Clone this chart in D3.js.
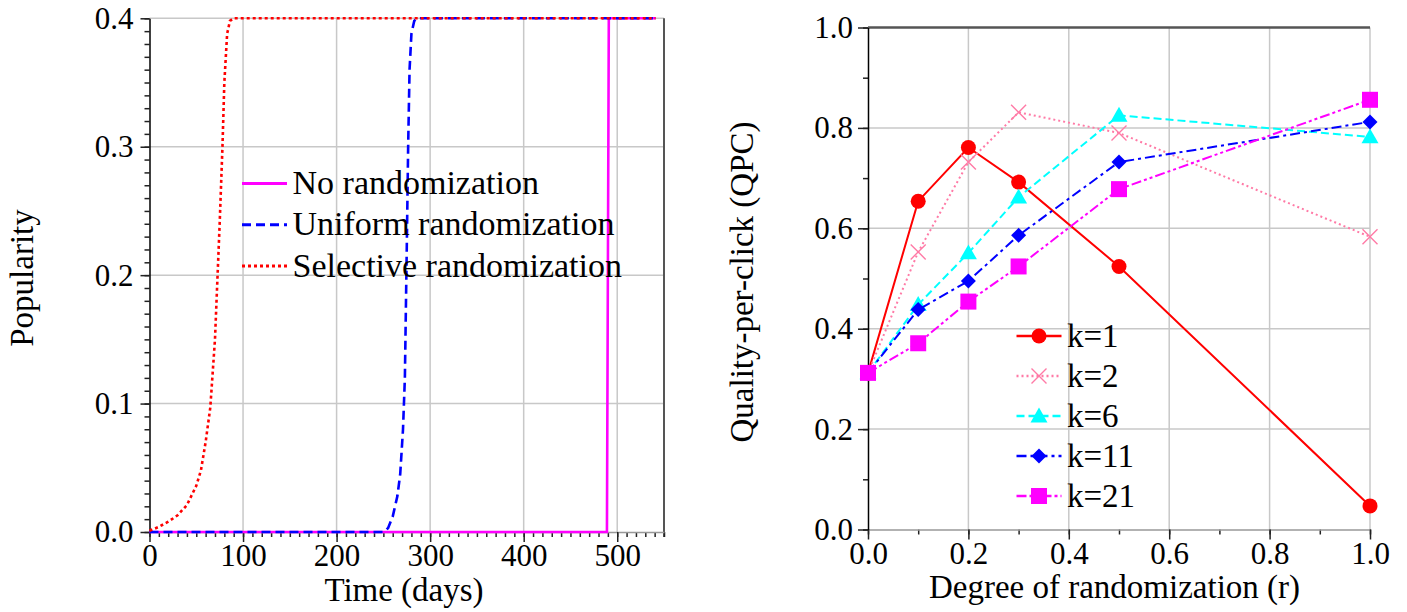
<!DOCTYPE html>
<html>
<head>
<meta charset="utf-8">
<script src="https://cdn.jsdelivr.net/npm/d3@7"></script>
<style>
  html, body { margin: 0; padding: 0; background: #fff; }
  svg { display: block; }
  text { font-family: "Liberation Serif", "Times New Roman", serif; fill: #000; }
</style>
</head>
<body>
<svg id="fig" width="1407" height="612"></svg>
<script>
// ---- Left panel: popularity over time ----
const popSeriesNames = ["No randomization", "Uniform randomization", "Selective randomization"];
const noRandDays = [0, 489, 491, 541];
const noRandPop  = [0, 0, 0.4, 0.4];
const uniformDays = [0, 250, 255, 260, 265, 268, 271, 273, 275, 276.5, 278, 280, 283, 286, 541];
const uniformPop  = [0, 0, 0.003, 0.012, 0.028, 0.045, 0.08, 0.12, 0.22, 0.3, 0.36, 0.388, 0.398, 0.4, 0.4];
const selectiveDays = [0, 10, 20, 30, 40, 50, 55, 60, 65, 70, 75, 78, 80, 83, 86, 90, 541];
const selectivePop  = [0.001, 0.004, 0.008, 0.013, 0.021, 0.036, 0.048, 0.07, 0.097, 0.15, 0.24, 0.3, 0.35, 0.388, 0.398, 0.4, 0.4];
const timeTicks = [0, 100, 200, 300, 400, 500];
const popTicks = [0.0, 0.1, 0.2, 0.3, 0.4];

// ---- Right panel: quality-per-click vs randomization ----
const rValues = [0, 0.1, 0.2, 0.3, 0.5, 1.0];
const kLabels = ["k=1", "k=2", "k=6", "k=11", "k=21"];
const qpcK1  = [0.312, 0.654, 0.761, 0.692, 0.524, 0.047];
const qpcK2  = [0.312, 0.553, 0.732, 0.831, 0.790, 0.583];
const qpcK6  = [0.312, 0.448, 0.551, 0.662, 0.825, 0.782];
const qpcK11 = [0.312, 0.438, 0.495, 0.586, 0.732, 0.812];
const qpcK21 = [0.312, 0.371, 0.454, 0.524, 0.678, 0.856];
const rTicks = [0.0, 0.2, 0.4, 0.6, 0.8, 1.0];
const qpcTicks = [0.0, 0.2, 0.4, 0.6, 0.8, 1.0];

const svg = d3.select("#fig");
const SERIF = "Liberation Serif";
const GRID = "#c8c8c8";
const FRAME = "#555";
const TICKFONT = 31;
const TITLEFONT = 33;

function styleAxis(g, domainColor) {
  g.attr("font-family", SERIF).attr("font-size", TICKFONT);
  g.selectAll("text").attr("font-family", SERIF).attr("font-size", TICKFONT).attr("fill", "#000");
  g.selectAll(".tick line").attr("stroke", "#222").attr("stroke-width", 1.5);
  g.select(".domain").attr("stroke", domainColor).attr("stroke-width", 1.5);
}
function minorStyle(a) {
  a.select(".domain").remove();
  a.selectAll(".tick line").attr("stroke", "#222").attr("stroke-width", 1.5);
}
function label(g, x, y, str, size, anchor, transform) {
  const t = g.append("text").attr("font-family", SERIF).attr("font-size", size).attr("fill", "#000").text(str);
  if (transform) t.attr("transform", transform); else t.attr("x", x).attr("y", y);
  if (anchor) t.attr("text-anchor", anchor);
  return t;
}

// ================= LEFT PANEL =================
(function () {
  const x = d3.scaleLinear().domain([0, 550]).range([149.5, 664]);
  const y = d3.scaleLinear().domain([0, 0.4]).range([532, 18.3]);
  const g = svg.append("g");

  // grid
  g.append("g").selectAll("line").data(timeTicks.filter(d => d > 0)).join("line")
    .attr("x1", d => x(d)).attr("x2", d => x(d)).attr("y1", y(0)).attr("y2", y(0.4))
    .attr("stroke", GRID).attr("stroke-width", 1.5);
  g.append("g").selectAll("line").data(popTicks.filter(d => d > 0)).join("line")
    .attr("x1", x(0)).attr("x2", x(550)).attr("y1", d => y(d)).attr("y2", d => y(d))
    .attr("stroke", GRID).attr("stroke-width", 1.5);

  // right frame line
  g.append("line").attr("x1", x(550)).attr("x2", x(550)).attr("y1", y(0.4)).attr("y2", y(0) + 5)
    .attr("stroke", FRAME).attr("stroke-width", 2);

  // minor ticks
  g.append("g").attr("transform", `translate(0,${y(0)})`)
    .call(d3.axisBottom(x).tickValues(d3.range(0, 551, 10)).tickSize(5).tickFormat("").tickSizeOuter(0))
    .call(minorStyle);
  g.append("g").attr("transform", `translate(${x(0)},0)`)
    .call(d3.axisLeft(y).tickValues(d3.range(0, 41).map(i => i / 100)).tickSize(5).tickFormat("").tickSizeOuter(0))
    .call(minorStyle);

  // major axes
  g.append("g").attr("transform", `translate(0,${y(0)})`)
    .call(d3.axisBottom(x).tickValues(timeTicks).tickSize(10).tickPadding(2).tickSizeOuter(0).tickFormat(d3.format("d")))
    .call(a => styleAxis(a, "#999"));
  g.append("g").attr("transform", `translate(${x(0)},0)`)
    .call(d3.axisLeft(y).tickValues(popTicks).tickSize(9).tickPadding(7).tickSizeOuter(0).tickFormat(d3.format(".1f")))
    .call(a => styleAxis(a, "#000"));

  const line = d3.line().x(d => x(d[0])).y(d => y(d[1]));
  const series = [
    { days: noRandDays, pop: noRandPop, color: "#ff00ff", dash: null, w: 2.6 },
    { days: uniformDays, pop: uniformPop, color: "#0000ff", dash: "9,5", w: 2.6 },
    { days: selectiveDays, pop: selectivePop, color: "#ff0000", dash: "3,3", w: 2.6 }
  ];
  // magenta underneath, then blue, then red on top along the plateau
  series.forEach(s => {
    g.append("path").datum(d3.zip(s.days, s.pop))
      .attr("d", line).attr("fill", "none").attr("stroke", s.color)
      .attr("stroke-width", s.w).attr("stroke-dasharray", s.dash);
  });

  // legend
  const leg = g.append("g");
  popSeriesNames.forEach((name, i) => {
    const ly = 183.5 + i * 41.3;
    leg.append("line").attr("x1", 242).attr("x2", 287).attr("y1", ly).attr("y2", ly)
      .attr("stroke", series[i].color).attr("stroke-width", 3)
      .attr("stroke-dasharray", series[i].dash);
    label(leg, 292.5, ly + 10.5, name, 34);
  });

  // titles
  label(g, 404, 601, "Time (days)", TITLEFONT, "middle");
  label(g, 0, 0, "Popularity", TITLEFONT, "middle", "translate(32.5,278) rotate(-90)");
})();

// ================= RIGHT PANEL =================
(function () {
  const x = d3.scaleLinear().domain([0, 1]).range([868, 1370]);
  const y = d3.scaleLinear().domain([0, 1]).range([529.5, 27.5]);
  const g = svg.append("g");

  // grid
  g.append("g").selectAll("line").data(rTicks.filter(d => d > 0)).join("line")
    .attr("x1", d => x(d)).attr("x2", d => x(d)).attr("y1", y(0)).attr("y2", y(1))
    .attr("stroke", GRID).attr("stroke-width", 1.5);
  g.append("g").selectAll("line").data(qpcTicks.filter(d => d > 0 && d < 1)).join("line")
    .attr("x1", x(0)).attr("x2", x(1)).attr("y1", d => y(d)).attr("y2", d => y(d))
    .attr("stroke", GRID).attr("stroke-width", 1.5);
  // top frame
  g.append("line").attr("x1", x(0)).attr("x2", x(1)).attr("y1", y(1)).attr("y2", y(1))
    .attr("stroke", FRAME).attr("stroke-width", 2.5);

  // minor ticks
  g.append("g").attr("transform", `translate(0,${y(0)})`)
    .call(d3.axisBottom(x).tickValues(d3.range(0, 11).map(i => i / 10)).tickSize(5).tickFormat("").tickSizeOuter(0))
    .call(minorStyle);
  g.append("g").attr("transform", `translate(${x(0)},0)`)
    .call(d3.axisLeft(y).tickValues(d3.range(0, 11).map(i => i / 10)).tickSize(5).tickFormat("").tickSizeOuter(0))
    .call(minorStyle);

  g.append("g").attr("transform", `translate(0,${y(0)})`)
    .call(d3.axisBottom(x).tickValues(rTicks).tickSize(10).tickPadding(2.5).tickSizeOuter(0).tickFormat(d3.format(".1f")))
    .call(a => styleAxis(a, "#999"));
  g.append("g").attr("transform", `translate(${x(0)},0)`)
    .call(d3.axisLeft(y).tickValues(qpcTicks).tickSize(10).tickPadding(5).tickSizeOuter(0).tickFormat(d3.format(".1f")))
    .call(a => styleAxis(a, "#000"));

  const series = [
    { vals: qpcK1,  color: "#ff0000", dash: null,           sym: "circle" },
    { vals: qpcK2,  color: "#ff7aa6", dash: "2,3",          sym: "cross" },
    { vals: qpcK6,  color: "#00ffff", dash: "8,4",          sym: "triangle" },
    { vals: qpcK11, color: "#0000ff", dash: "10,4,3,4",     sym: "diamond" },
    { vals: qpcK21, color: "#ff00ff", dash: "10,3,3,3,3,3", sym: "square" }
  ];

  function drawMarker(sel, sym, color, cx, cy) {
    if (sym === "circle") {
      sel.append("circle").attr("cx", cx).attr("cy", cy).attr("r", 7.5).attr("fill", color);
    } else if (sym === "cross") {
      const s = 7.5;
      sel.append("path").attr("d", `M${cx - s},${cy - s}L${cx + s},${cy + s}M${cx - s},${cy + s}L${cx + s},${cy - s}`)
        .attr("stroke", color).attr("stroke-width", 1.4).attr("fill", "none");
    } else if (sym === "triangle") {
      const s = 8.5;
      sel.append("path").attr("d", `M${cx},${cy - s}L${cx + s},${cy + s * 0.75}L${cx - s},${cy + s * 0.75}Z`).attr("fill", color);
    } else if (sym === "diamond") {
      const s = 7.5;
      sel.append("path").attr("d", `M${cx},${cy - s}L${cx + s},${cy}L${cx},${cy + s}L${cx - s},${cy}Z`).attr("fill", color);
    } else if (sym === "square") {
      sel.append("rect").attr("x", cx - 8).attr("y", cy - 8).attr("width", 16).attr("height", 16).attr("fill", color);
    }
  }

  const line = d3.line().x(d => x(d[0])).y(d => y(d[1]));
  series.forEach(s => {
    const pts = d3.zip(rValues, s.vals);
    const sg = g.append("g");
    sg.append("path").datum(pts).attr("d", line).attr("fill", "none")
      .attr("stroke", s.color).attr("stroke-width", 2).attr("stroke-dasharray", s.dash);
    pts.forEach(p => drawMarker(sg, s.sym, s.color, x(p[0]), y(p[1])));
  });

  // legend
  const leg = g.append("g");
  kLabels.forEach((lab, i) => {
    const s = series[i];
    const ly = 336 + i * 40;
    leg.append("line").attr("x1", 1016.5).attr("x2", 1061.5).attr("y1", ly).attr("y2", ly)
      .attr("stroke", s.color).attr("stroke-width", 2.5).attr("stroke-dasharray", s.dash);
    drawMarker(leg, s.sym, s.color, 1039, ly);
    label(leg, 1067, ly + 11, lab, TITLEFONT);
  });

  label(g, 1114.5, 598, "Degree of randomization (r)", TITLEFONT, "middle");
  label(g, 0, 0, "Quality-per-click (QPC)", TITLEFONT, "middle", "translate(753,282) rotate(-90)");
})();
</script>
</body>
</html>
